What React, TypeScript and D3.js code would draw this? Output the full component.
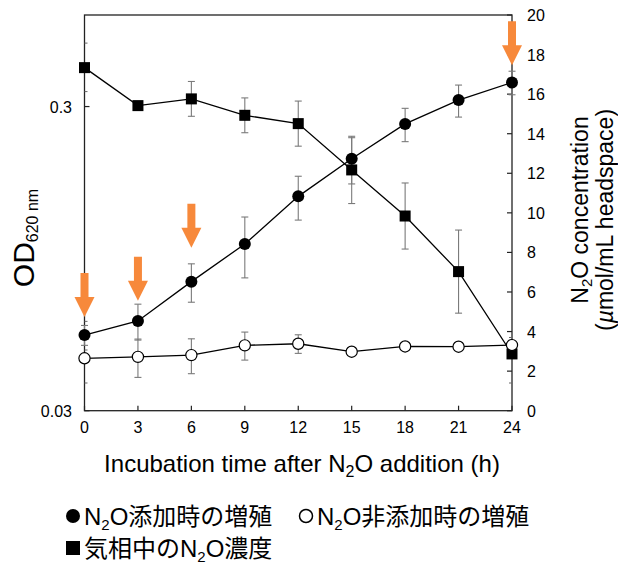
import React from "react";
import * as d3 from "d3";

// sampling times (h)
const hours = [0, 3, 6, 9, 12, 15, 18, 21, 24];

// OD620 with N2O added (filled circles) and its SD
const odWithN2O = [0.0532, 0.0592, 0.0797, 0.106, 0.152, 0.202, 0.263, 0.315, 0.36];
const odWithN2OErr = [0.004, 0.008, 0.0115, 0.024, 0.025, 0.035, 0.033, 0.038, 0.032];

// OD620 without N2O (open circles)
const odNoN2O = [0.0446, 0.0451, 0.0457, 0.0492, 0.0498, 0.0469, 0.0488, 0.0487, 0.0493];
const odNoN2OErr = [0.001, 0.0065, 0.006, 0.0052, 0.0035, 0.0012, 0.001, 0.0008, 0.0008];

// N2O in the headspace (squares), umol/mL
const n2oConc = [17.34, 15.42, 15.76, 14.93, 14.51, 12.17, 9.84, 7.03, 2.87];
const n2oConcErr = [0.1, 0.1, 0.88, 0.88, 1.14, 1.7, 1.67, 2.1, 0.05];

// N2O additions (orange arrows)
const arrowHours = [0, 3, 6, 24];
const arrowTipOD = [0.061, 0.069, 0.103, 0.41];

// ticks
const xTicks = [0, 3, 6, 9, 12, 15, 18, 21, 24];
const odTicks = [0.03, 0.3];
const odMinorTicks = [0.037, 0.0475, 0.059, 0.336, 0.405, 0.485];
const n2oTicks = [0, 2, 4, 6, 8, 10, 12, 14, 16, 18, 20];
const n2oMinorTicks = [1.4, 3.7];

const FONT = "'Liberation Sans', Arial, 'Noto Sans CJK JP', sans-serif";
const JP = "'Liberation Sans', 'Noto Sans CJK JP', sans-serif";

export default function App() {
  const left = 84.5, right = 512, top = 15, bottom = 410.7;

  const x = d3.scaleLinear().domain([0, 24]).range([left, right]);
  const yOD = d3.scaleLog().domain([0.03, 0.6]).range([bottom, top]);
  const yN = d3.scaleLinear().domain([0, 20]).range([bottom, top]);

  const lineOD = d3.line<number>().x((d, i) => x(hours[i])).y((d) => yOD(d));
  const lineN = d3.line<number>().x((d, i) => x(hours[i])).y((d) => yN(d));

  const errColor = "#7a7a7a";
  const cap = 3.5;

  const errBars = (vals: number[], errs: number[], y: (v: number) => number, key: string) =>
    vals.map((v, i) => {
      const cx = x(hours[i]);
      const y1 = y(v + errs[i]);
      const y2 = y(v - errs[i]);
      return (
        <g key={key + i} stroke={errColor} strokeWidth={1.1}>
          <line x1={cx} x2={cx} y1={y1} y2={y2} />
          <line x1={cx - cap} x2={cx + cap} y1={y1} y2={y1} />
          <line x1={cx - cap} x2={cx + cap} y1={y2} y2={y2} />
        </g>
      );
    });

  const arrow = (h: number, tipV: number, i: number) => {
    const cx = x(h);
    const ty = yOD(tipV);
    const headLen = 20, headW = 10, shaftW = 4, total = 44;
    const pts = [
      [cx - shaftW, ty - total],
      [cx + shaftW, ty - total],
      [cx + shaftW, ty - headLen],
      [cx + headW, ty - headLen],
      [cx, ty],
      [cx - headW, ty - headLen],
      [cx - shaftW, ty - headLen],
    ];
    return <polygon key={"a" + i} points={pts.map((p) => p.join(",")).join(" ")} fill="#f7893b" />;
  };

  return (
    <svg
      width={618}
      height={566}
      style={{ position: "absolute", left: 0, top: 0, background: "#fff" }}
      fontFamily={FONT}
    >
      {/* frame */}
      <rect x={left} y={top} width={right - left} height={bottom - top} fill="none" stroke="#222" strokeWidth={1.3} />

      {/* x ticks */}
      {xTicks.map((t) => (
        <g key={"x" + t}>
          <line x1={x(t)} x2={x(t)} y1={bottom} y2={bottom - 5} stroke="#222" strokeWidth={1.2} />
          <text x={x(t)} y={433} textAnchor="middle" fontSize={16}>
            {t}
          </text>
        </g>
      ))}

      {/* left axis (log OD) */}
      {odTicks.map((t) => (
        <g key={"od" + t}>
          <line x1={left} x2={left + 5} y1={yOD(t)} y2={yOD(t)} stroke="#222" strokeWidth={1.2} />
          <text x={72} y={yOD(t) + 6} textAnchor="end" fontSize={16}>
            {String(t)}
          </text>
        </g>
      ))}
      {odMinorTicks.map((t) => (
        <line key={"odm" + t} x1={left} x2={left + 3} y1={yOD(t)} y2={yOD(t)} stroke="#666" strokeWidth={1} />
      ))}

      {/* right axis (N2O) */}
      {n2oTicks.map((t) => (
        <g key={"n" + t}>
          <line x1={right} x2={right - 5} y1={yN(t)} y2={yN(t)} stroke="#222" strokeWidth={1.2} />
          <text x={527} y={yN(t) + 6} textAnchor="start" fontSize={16}>
            {t}
          </text>
        </g>
      ))}
      {n2oMinorTicks.map((t) => (
        <line key={"nm" + t} x1={right} x2={right - 3} y1={yN(t)} y2={yN(t)} stroke="#666" strokeWidth={1} />
      ))}

      {/* error bars */}
      {errBars(n2oConc, n2oConcErr, yN, "en")}
      {errBars(odWithN2O, odWithN2OErr, yOD, "ew")}
      {errBars(odNoN2O, odNoN2OErr, yOD, "eo")}

      {/* lines */}
      <path d={lineN(n2oConc) ?? ""} fill="none" stroke="#000" strokeWidth={1.3} />
      <path d={lineOD(odWithN2O) ?? ""} fill="none" stroke="#000" strokeWidth={1.3} />
      <path d={lineOD(odNoN2O) ?? ""} fill="none" stroke="#000" strokeWidth={1.3} />

      {/* markers */}
      {n2oConc.map((v, i) => (
        <rect key={"s" + i} x={x(hours[i]) - 5.5} y={yN(v) - 5.5} width={11} height={11} fill="#000" />
      ))}
      {odWithN2O.map((v, i) => (
        <circle key={"f" + i} cx={x(hours[i])} cy={yOD(v)} r={6} fill="#000" />
      ))}
      {odNoN2O.map((v, i) => (
        <circle key={"o" + i} cx={x(hours[i])} cy={yOD(v)} r={5.6} fill="#fff" stroke="#000" strokeWidth={1.2} />
      ))}

      {/* arrows */}
      {arrowHours.map((h, i) => arrow(h, arrowTipOD[i], i))}

      {/* axis titles */}
      <text transform="translate(34,238) rotate(-90)" textAnchor="middle" fontSize={30}>
        OD
        <tspan fontSize={16} dy={4}>
          620 nm
        </tspan>
      </text>
      <text transform="translate(588,210) rotate(-90)" textAnchor="middle" fontSize={23}>
        N
        <tspan fontSize={15} dy={4}>
          2
        </tspan>
        <tspan dy={-4}>O concentration</tspan>
      </text>
      <text transform="translate(613,220) rotate(-90)" textAnchor="middle" fontSize={23}>
        (<tspan fontStyle="italic">µ</tspan>mol/mL headspace)
      </text>
      <text x={302} y={472} textAnchor="middle" fontSize={24}>
        Incubation time after N
        <tspan fontSize={16} dy={5}>
          2
        </tspan>
        <tspan dy={-5}>O addition (h)</tspan>
      </text>

      {/* legend */}
      <g fontFamily={JP} fontSize={24}>
        <circle cx={73} cy={516} r={7} fill="#000" />
        <text x={84} y={525}>
          N
          <tspan fontSize={15} dy={5}>
            2
          </tspan>
          <tspan dy={-5}>O添加時の増殖</tspan>
        </text>
        <circle cx={306} cy={516} r={6.5} fill="#fff" stroke="#000" strokeWidth={1.5} />
        <text x={317} y={525}>
          N
          <tspan fontSize={15} dy={5}>
            2
          </tspan>
          <tspan dy={-5}>O非添加時の増殖</tspan>
        </text>
        <rect x={66} y={541} width={14} height={14} fill="#000" />
        <text x={84} y={557}>
          気相中のN
          <tspan fontSize={15} dy={5}>
            2
          </tspan>
          <tspan dy={-5}>O濃度</tspan>
        </text>
      </g>
    </svg>
  );
}
